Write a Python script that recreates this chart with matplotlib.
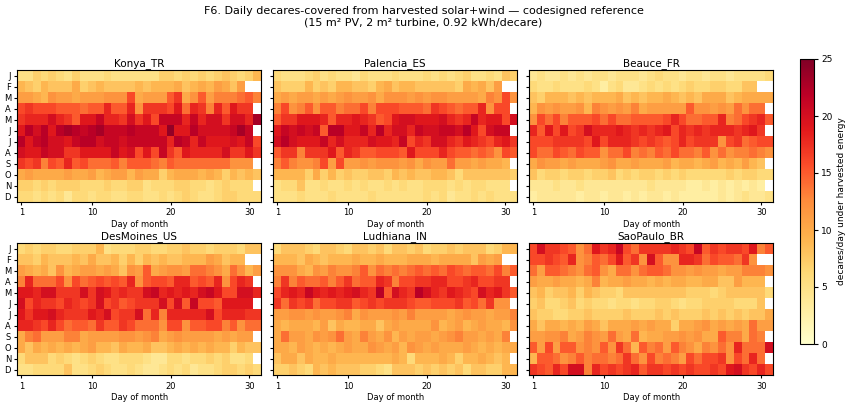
import numpy as np
import matplotlib
matplotlib.use("Agg")
import matplotlib.pyplot as plt

n = np.nan
months = ['J', 'F', 'M', 'A', 'M', 'J', 'J', 'A', 'S', 'O', 'N', 'D']
days = list(range(1, 32))
sites = ['Konya_TR', 'Palencia_ES', 'Beauce_FR', 'DesMoines_US', 'Ludhiana_IN', 'SaoPaulo_BR']

konya = [
    [5,5,7,6,7,6,5,7,5,5,5,6,5,5,5,5,5,5,7,7,6,7,6,7,6,7,8,7,6,7,9],
    [9,8,7,9,8,8,8,10,7,8,9,8,8,8,8,9,8,9,9,9,10,8,9,10,9,11,10,8,11,n,n],
    [11,11,10,9,12,11,11,10,11,11,11,12,12,12,16,10,11,11,11,15,17,10,12,15,11,13,13,13,14,15,13],
    [16,17,16,16,16,15,15,15,14,15,15,18,15,15,18,12,17,17,17,16,19,14,18,17,13,18,15,19,17,17,n],
    [17,18,18,18,20,18,17,15,19,19,21,18,18,17,20,17,19,16,21,21,21,18,21,18,20,20,17,20,20,18,23],
    [19,22,20,22,19,22,23,22,21,22,23,21,21,21,22,21,21,21,19,24,19,19,22,20,20,20,20,21,23,21,n],
    [22,19,21,22,20,20,19,21,22,22,20,21,21,20,21,21,21,21,21,18,22,21,18,21,19,19,19,20,19,21,16],
    [20,19,19,21,20,20,17,17,19,19,19,19,21,19,20,16,19,16,21,17,15,19,18,18,18,18,20,17,17,19,17],
    [17,16,17,13,16,15,18,15,16,14,14,14,15,13,15,15,15,14,13,15,14,14,14,14,14,14,14,12,12,12,n],
    [10,11,10,10,10,10,11,10,10,11,9,10,11,11,9,11,10,10,7,9,10,10,10,9,10,9,7,9,8,9,8],
    [7,7,6,7,6,7,7,7,6,6,6,7,6,6,7,7,5,6,6,6,7,7,6,6,5,6,7,6,6,6,n],
    [6,6,5,6,5,6,4,6,6,5,6,6,5,5,6,6,5,5,6,5,6,7,6,5,5,6,7,7,6,6,6],
]
palencia = [
    [6,5,5,5,6,7,5,6,5,5,4,6,5,5,5,6,5,5,5,6,5,6,5,6,7,5,5,6,5,8,7],
    [8,7,7,7,9,7,8,7,9,9,8,8,7,9,10,8,9,9,8,8,8,8,8,7,10,9,10,8,11,n,n],
    [10,11,10,11,11,10,11,10,11,12,11,11,12,10,12,12,12,11,12,11,12,12,11,11,11,11,10,13,12,16,12],
    [13,16,12,13,15,12,15,15,13,14,14,16,13,16,16,16,15,15,15,14,17,16,15,14,15,15,18,12,16,16,n],
    [15,17,17,19,19,19,18,15,18,18,19,18,17,15,16,19,20,20,19,19,19,20,18,17,18,21,18,19,19,16,20],
    [19,21,20,21,20,21,15,22,22,19,19,21,18,22,18,20,20,18,21,20,20,21,21,20,22,19,16,20,21,21,n],
    [20,22,20,19,19,19,21,18,20,18,18,18,20,19,19,18,21,16,18,17,20,20,18,17,19,18,17,16,18,19,17],
    [15,17,17,13,17,17,17,19,15,18,17,15,15,16,16,16,15,19,16,16,16,18,16,15,15,14,15,14,12,16,15],
    [13,15,13,12,12,13,16,11,16,11,11,12,11,12,12,12,11,12,10,12,11,11,14,11,11,10,11,10,10,9,n],
    [9,9,9,9,7,10,7,9,7,8,7,7,8,8,7,9,8,9,8,8,9,9,8,6,8,8,8,8,8,8,7],
    [5,6,6,8,5,5,6,5,5,6,5,6,5,5,6,5,6,5,5,6,6,6,5,6,5,6,6,5,5,5,n],
    [5,5,5,6,5,5,5,6,5,5,5,5,6,5,5,5,5,5,5,6,5,6,4,5,5,6,5,6,5,5,5],
]
beauce = [
    [4,5,4,4,5,4,5,4,5,5,4,5,5,5,4,5,6,5,5,4,5,5,4,5,5,4,5,5,5,5,6],
    [6,5,5,6,5,5,5,6,5,3,5,6,4,4,5,6,5,6,5,6,7,6,6,7,7,6,6,8,8,n,n],
    [8,7,9,9,9,8,9,8,9,9,9,10,8,9,8,9,9,10,9,8,9,8,10,10,10,8,9,10,10,10,10],
    [9,12,11,12,11,11,12,9,13,12,11,12,11,13,10,11,11,11,11,11,15,12,12,11,12,11,14,12,14,14,n],
    [12,16,14,16,13,15,15,15,16,14,16,14,14,15,15,15,15,16,18,16,14,14,15,15,18,13,14,16,17,18,15],
    [18,15,19,16,19,16,17,20,18,18,18,19,18,17,18,17,18,19,16,18,17,18,17,18,18,18,17,18,19,17,n],
    [16,16,16,17,17,17,17,16,19,16,18,18,18,17,16,17,16,15,16,18,16,17,17,17,12,16,17,14,15,16,16],
    [16,14,14,16,15,14,16,15,15,12,14,14,16,13,14,13,15,14,16,14,14,13,15,12,14,12,13,13,14,13,12],
    [10,12,11,11,10,11,10,10,10,11,12,10,10,11,10,10,10,11,9,10,10,9,10,11,9,10,9,11,9,8,n],
    [8,6,7,7,6,7,7,6,7,7,8,6,7,6,7,7,6,7,6,7,6,6,6,6,6,7,6,7,7,6,6],
    [4,4,4,5,4,4,5,4,4,4,4,4,4,4,4,5,4,4,4,4,3,3,4,3,4,3,4,3,4,3,n],
    [3,4,4,4,4,4,3,4,4,3,4,4,3,4,3,4,4,3,4,3,3,3,3,3,4,3,4,5,4,4,5],
]
desmoines = [
    [6,7,6,7,7,6,6,7,7,7,9,5,6,6,6,7,7,6,6,7,7,8,7,7,6,7,7,7,6,8,8],
    [8,8,7,9,8,8,8,9,8,10,8,8,9,7,9,7,9,8,9,8,8,9,9,9,11,10,8,9,9,n,n],
    [11,10,9,10,8,12,9,10,11,11,10,11,10,8,12,11,15,10,11,12,12,11,14,14,13,12,10,14,12,9,11],
    [13,18,14,14,14,16,12,16,14,15,16,15,16,15,18,12,15,16,16,15,18,18,15,16,15,18,12,16,18,17,n],
    [19,19,18,20,20,17,17,17,20,17,20,19,17,18,17,17,20,21,18,19,18,19,18,20,21,19,16,16,20,20,18],
    [20,16,18,17,17,16,18,17,16,17,20,16,17,15,16,17,17,17,20,16,20,15,21,16,16,15,19,19,19,19,n],
    [19,17,19,19,20,18,17,17,17,19,18,20,16,17,17,20,14,18,13,18,18,18,18,18,20,16,18,18,18,17,17],
    [18,18,17,16,18,16,14,15,15,14,17,15,15,17,16,14,14,14,12,16,16,12,15,15,16,16,13,15,12,14,14],
    [10,13,14,11,11,11,13,13,10,11,11,11,11,12,12,11,12,13,10,11,12,11,11,11,11,10,11,10,11,11,n],
    [10,8,10,9,10,9,10,9,10,11,9,9,8,10,9,9,10,8,8,9,10,9,10,9,10,9,9,7,9,8,8],
    [6,8,8,8,6,7,6,5,6,7,6,5,5,6,6,6,5,4,4,6,6,5,6,6,7,6,7,5,5,6,n],
    [5,5,6,6,6,6,8,5,5,6,7,6,5,5,6,5,4,4,5,6,5,6,4,5,5,6,7,7,6,7,6],
]
ludhiana = [
    [6,8,8,8,7,6,8,8,7,6,8,8,7,8,6,8,8,7,8,6,7,7,8,7,8,8,8,6,7,9,9],
    [9,9,9,8,10,9,8,9,9,9,10,9,9,10,9,9,9,10,10,10,9,10,10,10,10,8,11,10,11,n,n],
    [12,12,12,10,9,12,11,13,12,12,13,15,12,14,13,14,13,14,15,14,15,14,16,15,14,15,15,14,16,13,15],
    [13,17,13,15,14,14,15,13,15,17,14,15,15,18,17,13,16,16,17,17,18,18,16,16,17,18,16,16,17,17,n],
    [16,18,19,18,21,19,18,19,18,19,20,18,17,22,15,20,18,17,22,20,18,17,19,18,17,16,20,18,19,17,15],
    [17,14,17,16,17,14,16,16,17,17,15,16,17,16,17,17,17,16,15,15,16,16,16,17,15,16,14,17,12,12,n],
    [11,11,12,12,11,12,11,11,12,13,10,12,11,11,11,12,11,13,11,11,11,11,10,11,12,11,11,10,11,11,13],
    [10,9,10,10,10,9,11,8,10,9,9,10,10,8,10,11,10,10,10,10,12,9,10,11,9,10,11,10,10,9,12],
    [10,14,11,11,10,12,11,12,14,11,10,13,11,10,12,9,11,10,11,11,10,11,12,13,11,11,10,11,10,13,n],
    [10,10,9,11,10,9,10,9,10,11,10,10,12,11,10,11,9,12,11,10,11,10,10,10,11,10,9,10,9,10,10],
    [8,10,10,8,10,9,9,10,9,9,9,9,9,9,9,10,9,6,9,9,9,10,9,7,9,9,10,9,8,9,n],
    [7,7,8,7,6,9,8,9,8,8,8,7,7,6,5,8,8,8,7,8,7,8,7,8,6,8,8,7,7,9,9],
]
saopaulo = [
    [16,20,17,17,16,15,12,14,19,17,18,21,16,14,17,17,17,17,18,17,16,21,15,17,16,17,17,16,19,13,15],
    [16,16,17,16,15,18,12,13,15,14,16,19,15,17,12,20,15,12,12,18,18,17,14,16,15,15,14,17,12,n,n],
    [14,11,15,15,14,13,12,14,15,12,10,14,14,12,14,15,15,14,12,12,11,12,11,11,10,11,11,13,13,13,12],
    [11,10,10,11,10,10,9,10,13,9,10,10,11,10,10,9,10,9,10,10,9,9,10,10,8,8,11,9,9,9,n],
    [8,9,7,8,8,9,7,9,8,7,7,6,8,8,8,8,8,8,8,8,7,7,7,6,7,8,8,8,8,8,6],
    [7,8,6,6,7,8,6,7,6,6,5,6,6,5,6,6,7,7,6,5,6,6,7,7,7,7,6,6,6,8,n],
    [8,7,7,6,6,7,7,8,7,7,7,7,8,7,7,7,8,7,8,7,7,7,8,7,8,7,8,7,8,8,10],
    [10,8,10,10,9,10,9,11,10,8,10,10,10,11,10,11,10,10,7,10,10,11,12,10,11,10,11,10,14,11,11],
    [11,11,12,12,13,10,11,13,12,11,14,11,10,14,9,10,10,11,11,12,11,12,10,10,15,13,13,10,14,13,n],
    [15,11,16,11,15,15,12,13,12,15,12,17,14,9,15,13,14,11,15,13,12,10,13,12,14,12,18,14,14,14,20],
    [9,15,15,14,12,13,15,13,14,14,13,14,17,14,12,16,13,14,13,11,16,14,16,16,17,12,16,14,18,14,n],
    [17,16,15,18,16,20,20,13,18,16,17,16,17,18,15,17,17,16,17,16,17,16,16,17,16,19,20,17,16,18,16],
]
grids = [konya, palencia, beauce, desmoines, ludhiana, saopaulo]

fig = plt.figure(figsize=(8.47, 4.04), dpi=100)
W, H = 847, 404
lefts = [17.3, 273.3, 529.3]
tops = [70, 243.3]
aw, ah = 244, 132

for k, (name, grid) in enumerate(zip(sites, grids)):
    r, c = divmod(k, 3)
    ax = fig.add_axes([lefts[c] / W, 1 - (tops[r] + ah) / H, aw / W, ah / H])
    data = np.array(grid, dtype=float)
    im = ax.imshow(data, cmap='YlOrRd', vmin=0, vmax=25, aspect='auto',
                   interpolation='nearest', extent=[0.5, 31.5, 12.5, 0.5])
    ax.set_title(name, fontsize=7.5, pad=3)
    ax.set_xticks([1, 10, 20, 30])
    ax.set_yticks(range(1, 13))
    if c == 0:
        ax.set_yticklabels(months)
    else:
        ax.set_yticklabels([])
    ax.tick_params(labelsize=6, length=2.5, pad=2)
    ax.set_xlabel('Day of month', fontsize=6, labelpad=2)

cax = fig.add_axes([800 / W, 1 - 344 / H, 14 / W, 285 / H])
cb = fig.colorbar(im, cax=cax)
cb.set_ticks([0, 5, 10, 15, 20, 25])
cb.ax.tick_params(labelsize=6.5, length=3, pad=2)
cb.set_label('decares/day under harvested energy', fontsize=6.5, labelpad=3)

fig.suptitle('F6. Daily decares-covered from harvested solar+wind — codesigned reference\n'
             '(15 m² PV, 2 m² turbine, 0.92 kWh/decare)', fontsize=8, y=0.985)

fig.savefig('out.png', dpi=100)
